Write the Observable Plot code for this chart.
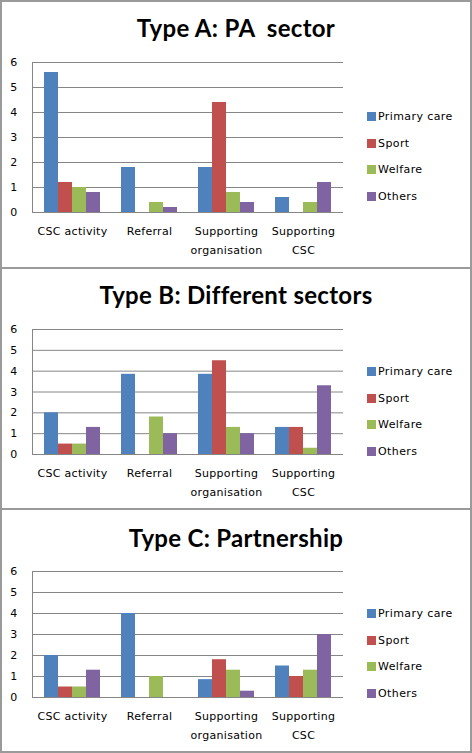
<!DOCTYPE html>
<html><head><meta charset="utf-8">
<script src="https://cdn.jsdelivr.net/npm/d3@7"></script>
<script src="https://cdn.jsdelivr.net/npm/@observablehq/plot@0.6"></script>
<style>
body{margin:0;background:#fff;}
#wrap{position:relative;width:472px;height:753px;overflow:hidden;background:#fff;font-family:"DejaVu Sans",sans-serif;}
.border{position:absolute;left:0;top:0;width:472px;height:753px;box-sizing:border-box;border:2px solid #9a9a9a;pointer-events:none;}
.sep{position:absolute;left:0;width:472px;height:2px;background:#9a9a9a;}
.title{position:absolute;left:0;width:472px;text-align:center;font-family:Lato,sans-serif;font-weight:bold;font-size:24px;letter-spacing:0.3px;line-height:28px;color:#000;white-space:pre;}
.chart{position:absolute;left:0;}
.legend{position:absolute;left:367px;}
.item{height:26.4px;display:flex;align-items:center;font-size:11px;letter-spacing:0.4px;color:#000;}
.sw{width:9px;height:9px;margin-right:2px;flex:none;}
</style></head>
<body><div id="wrap"></div>
<script>
const categories = ["CSC activity", "Referral", "Supporting\norganisation", "Supporting\nCSC"];
const series = ["Primary care", "Sport", "Welfare", "Others"];
const colors = ["#4F81BD", "#C0504D", "#9BBB59", "#8064A2"];
const yTicks = [0, 1, 2, 3, 4, 5, 6];
const titles = ["Type A: PA  sector", "Type B: Different sectors", "Type C: Partnership"];

// values per series (rows) across categories (columns)
const typeA = [
  [5.6, 1.8, 1.8, 0.6],
  [1.2, 0, 4.4, 0],
  [1.0, 0.4, 0.8, 0.4],
  [0.8, 0.2, 0.4, 1.2]
];
const typeB = [
  [2.0, 3.85, 3.85, 1.3],
  [0.5, 0, 4.5, 1.3],
  [0.5, 1.8, 1.3, 0.3],
  [1.3, 1.0, 1.0, 3.3]
];
const typeC = [
  [2.0, 4.0, 0.85, 1.5],
  [0.5, 0, 1.8, 1.0],
  [0.5, 1.0, 1.3, 1.3],
  [1.3, 0, 0.3, 3.0]
];

const panels = [
  {vals: typeA, title: titles[0], titleTop: 14, svgTop: 50, height: 215, mt: 12, mb: 53, legendTop: 103.8},
  {vals: typeB, title: titles[1], titleTop: 281, svgTop: 315, height: 190, mt: 14, mb: 51, legendTop: 358.8},
  {vals: typeC, title: titles[2], titleTop: 524, svgTop: 557, height: 191, mt: 14, mb: 51, legendTop: 600.8}
];

const wrap = document.getElementById("wrap");
const baseStyle = {fontFamily: "DejaVu Sans", fontSize: "11px", color: "#000", background: "transparent", overflow: "visible", letterSpacing: "0.3px"};

function makeGrid(p) {
  return Plot.plot({
    width: 472, height: p.height,
    marginLeft: 32, marginRight: 129, marginTop: p.mt, marginBottom: p.mb,
    style: baseStyle,
    x: {axis: null},
    y: {domain: [0, 6], label: null, axis: null},
    marks: [
      Plot.ruleY(yTicks, {stroke: "#868686", strokeOpacity: 1}),
      Plot.frame({anchor: "left", stroke: "#868686"}),
      Plot.axisY({ticks: yTicks, tickSize: 0, tickPadding: 15, tickFormat: d => String(d), label: null})
    ]
  });
}

function makeBars(p) {
  const data = [];
  categories.forEach((c, ci) => series.forEach((s, si) => data.push({category: c, series: s, value: p.vals[si][ci]})));
  return Plot.plot({
    width: 472, height: p.height,
    marginLeft: 32, marginRight: 129, marginTop: p.mt, marginBottom: p.mb,
    style: baseStyle,
    fx: {domain: categories, paddingInner: 0.27, paddingOuter: 0.135, label: null},
    x: {domain: series, padding: 0, axis: null},
    y: {domain: [0, 6], label: null, axis: null},
    color: {domain: series, range: colors},
    marks: [
      Plot.barY(data, {fx: "category", x: "series", y: "value", fill: "series"}),
      Plot.axisFx({anchor: "bottom", tickSize: 0, tickPadding: 9, lineHeight: 1.75, label: null})
    ]
  });
}

panels.forEach(p => {
  const t = document.createElement("div");
  t.className = "title"; t.style.top = p.titleTop + "px"; t.textContent = p.title;
  wrap.appendChild(t);
  const g = document.createElement("div");
  g.className = "chart"; g.style.top = p.svgTop + "px";
  g.appendChild(makeGrid(p));
  wrap.appendChild(g);
  const c = document.createElement("div");
  c.className = "chart"; c.style.top = p.svgTop + "px";
  c.appendChild(makeBars(p));
  wrap.appendChild(c);
  const lg = document.createElement("div");
  lg.className = "legend"; lg.style.top = p.legendTop + "px";
  series.forEach((s, i) => {
    const it = document.createElement("div"); it.className = "item";
    const sw = document.createElement("span"); sw.className = "sw"; sw.style.background = colors[i];
    const tx = document.createElement("span"); tx.textContent = s;
    it.appendChild(sw); it.appendChild(tx); lg.appendChild(it);
  });
  wrap.appendChild(lg);
});
[267, 508].forEach(y => { const s = document.createElement("div"); s.className = "sep"; s.style.top = y + "px"; wrap.appendChild(s); });
const b = document.createElement("div"); b.className = "border"; wrap.appendChild(b);
</script></body></html>
